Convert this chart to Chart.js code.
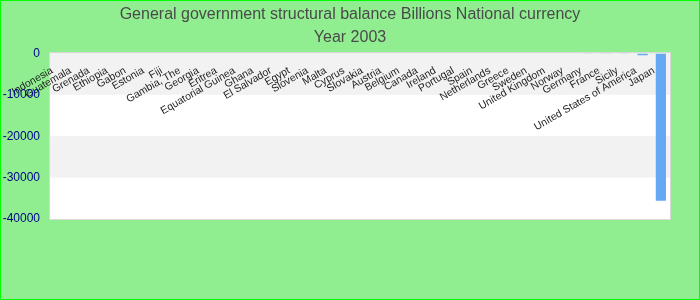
<!DOCTYPE html>
<html>
<head>
<meta charset="utf-8">
<script src="https://cdn.jsdelivr.net/npm/chart.js@4/dist/chart.umd.min.js"></script>
<style>
  html, body { margin: 0; padding: 0; background: #90ee90; }
  #wrap { width: 700px; height: 300px; box-sizing: border-box; border: 1px solid #00ff00; }
  canvas { display: block; }
</style>
</head>
<body>
<div id="wrap"><canvas id="c" width="698" height="298"></canvas></div>
<script>
const titleLines = ['General government structural balance Billions National currency', 'Year 2003'];
const categories = ['Indonesia', 'Guatemala', 'Grenada', 'Ethiopia', 'Gabon', 'Estonia', 'Fiji', 'Gambia, The', 'Georgia', 'Eritrea', 'Equatorial Guinea', 'Ghana', 'El Salvador', 'Egypt', 'Slovenia', 'Malta', 'Cyprus', 'Slovakia', 'Austria', 'Belgium', 'Canada', 'Ireland', 'Portugal', 'Spain', 'Netherlands', 'Greece', 'Sweden', 'United Kingdom', 'Norway', 'Germany', 'France', 'Sicily', 'United States of America', 'Japan'];
const balance = [1.2, 0.4, -0.02, -0.1, -0.2, -0.3, -0.35, -0.4, -0.45, -0.5, -0.6, -0.7, -0.75, -0.8, -1.0, -1.2, -1.5, -2.0, -2.8, -3.2, -3.5, -3.8, -4.5, -5.0, -6.5, -9.0, -10.5, -38, -45, -58, -62, -80, -440, -35600];
const yTicks = [0, -10000, -20000, -30000, -40000];

const FONT = '"Liberation Sans", Arial, sans-serif';

const bandsPlugin = {
  id: 'bands',
  beforeDraw(chart) {
    const { ctx, chartArea: a, scales } = chart;
    const y = scales.y;
    ctx.save();
    ctx.fillStyle = '#ffffff';
    ctx.fillRect(a.left, a.top, a.right - a.left, a.bottom - a.top);
    for (let i = 0; i < yTicks.length - 1; i++) {
      if (i % 2 === 0) {
        const p1 = y.getPixelForValue(yTicks[i]);
        const p2 = y.getPixelForValue(yTicks[i + 1]);
        ctx.fillStyle = '#f2f2f2';
        ctx.fillRect(a.left, p1, a.right - a.left, p2 - p1);
      }
    }
    ctx.strokeStyle = '#d8d8d8';
    ctx.lineWidth = 1;
    ctx.strokeRect(Math.round(a.left) - 0.5, Math.round(a.top) - 0.5, Math.round(a.right - a.left) + 1, Math.round(a.bottom - a.top) + 1);
    ctx.restore();
  }
};

new Chart(document.getElementById('c'), {
  type: 'bar',
  data: {
    labels: categories,
    datasets: [{
      data: balance,
      backgroundColor: '#65a9f3',
      borderWidth: 0,
      barPercentage: 0.7,
      categoryPercentage: 0.8
    }]
  },
  options: {
    responsive: false,
    animation: false,
    layout: { padding: { left: 0, right: 0, top: 0, bottom: 80 } },
    plugins: {
      legend: { display: false },
      tooltip: { enabled: false },
      title: {
        display: true,
        text: titleLines,
        color: '#4a4a4a',
        font: { family: FONT, size: 16, weight: 'normal', lineHeight: 1.45 },
        padding: { top: 2, bottom: 4 }
      }
    },
    scales: {
      x: {
        position: { y: 0 },
        grid: { display: false, drawTicks: false },
        border: { display: false },
        afterFit(scale) { scale.paddingLeft = 0; scale.paddingRight = 29; },
        ticks: {
          autoSkip: false,
          minRotation: 30,
          maxRotation: 30,
          padding: 11,
          labelOffset: -7,
          color: '#222222',
          font: { family: FONT, size: 10.5 }
        }
      },
      y: {
        min: -40000,
        max: 0,
        afterBuildTicks(scale) { scale.ticks = yTicks.map(v => ({ value: v })); },
        afterFit(scale) { scale.width = 49; },
        grid: { display: false, drawTicks: false },
        border: { display: false },
        ticks: {
          color: '#00008b',
          padding: 10,
          font: { family: FONT, size: 12 },
          callback: v => String(v)
        }
      }
    }
  },
  plugins: [bandsPlugin]
});
</script>
</body>
</html>
